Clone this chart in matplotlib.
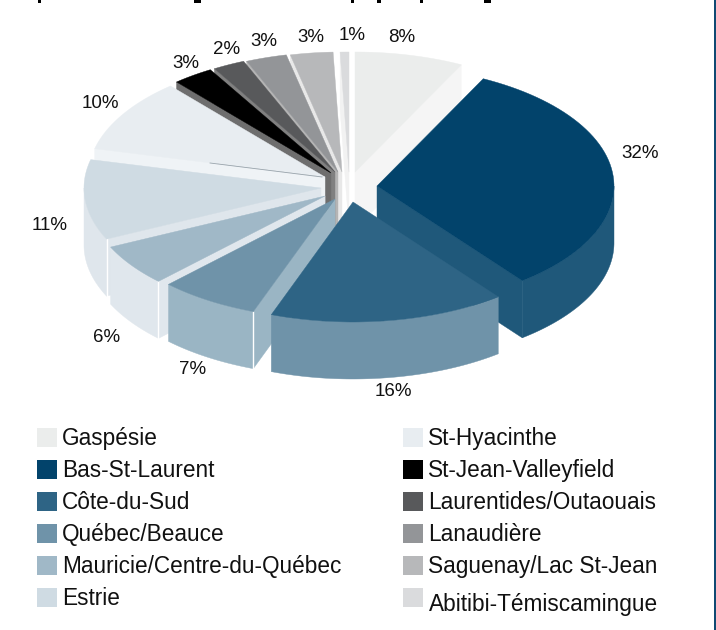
import numpy as np
import matplotlib
matplotlib.use("Agg")
import matplotlib.pyplot as plt
from matplotlib.patches import Polygon, Rectangle
from matplotlib import font_manager as fm

# ---------- data ----------
regions = ["Gaspésie", "Bas-St-Laurent", "Côte-du-Sud", "Québec/Beauce",
           "Mauricie/Centre-du-Québec", "Estrie", "St-Hyacinthe",
           "St-Jean-Valleyfield", "Laurentides/Outaouais", "Lanaudière",
           "Saguenay/Lac St-Jean", "Abitibi-Témiscamingue"]
shares = [7.4, 32.1, 16.1, 6.8, 5.6, 10.8, 9.9, 2.8, 2.2, 2.8, 2.9, 0.6]
labels = ["8%", "32%", "16%", "7%", "6%", "11%", "10%", "3%", "2%", "3%", "3%", "1%"]

# ---------- style ----------
top_colors = ["#EBEDEC", "#02436B", "#2E6485", "#6F93A9", "#A0B8C7", "#CFDBE3",
              "#E8EDF1", "#000000", "#58595B", "#939598", "#B7B8BA", "#DADBDD"]
side_colors = ["#F5F5F5", "#1F587A", "#6F93A9", "#9AB5C4", "#E0E7ED", "#DFE6EC",
               "#EFF3F6", "#6E6E6E", "#808080", "#B5B5B5", "#E8E8E8", "#F2F2F2"]
apex = [(355, 172), (377, 186), (353, 202), (335, 199), (325, 196), (321, 188),
        (325, 177), (331, 173), (335, 172), (338, 172), (342, 172), (349, 172)]
label_pos = [(402, 37), (640, 154), (393, 392), (193, 369), (107, 338), (50, 226),
             (100, 103), (186, 63), (227, 50), (264, 42), (311, 38), (352, 36)]
draw_order = [0, 11, 10, 9, 8, 7, 6, 5, 4, 3, 1, 2]
RX, RY, DEPTH = 237, 120, 57

names = {f.name for f in fm.fontManager.ttflist}
FONT = "Liberation Sans Narrow" if "Liberation Sans Narrow" in names else "Liberation Sans"

fig = plt.figure(figsize=(7.16, 6.30), dpi=100)
ax = fig.add_axes([0, 0, 1, 1])
ax.set_xlim(0, 716)
ax.set_ylim(630, 0)
ax.axis("off")

edges = np.concatenate([[0], np.cumsum(shares)]) / np.sum(shares) * 360


def rim(i, deg):
    t = np.radians(deg)
    return apex[i][0] + RX * np.sin(t), apex[i][1] - RY * np.cos(t)


def arc(i, a, b, n=60):
    d = np.linspace(a, b, n)
    x, y = rim(i, d)
    return np.column_stack([x, y])


def add_poly(pts, color, z):
    ax.add_patch(Polygon(pts, closed=True, facecolor=color, edgecolor=color,
                         linewidth=0.3, zorder=z))


for z, i in enumerate(draw_order):
    a, b = edges[i], edges[i + 1]
    base = z * 10
    ap = np.array(apex[i], float)
    down = np.array([0, DEPTH])
    # visible cut faces
    if b <= 180:
        e = np.array(rim(i, b))
        add_poly([ap, e, e + down, ap + down], side_colors[i], base + 1)
    if a >= 180:
        e = np.array(rim(i, a))
        add_poly([ap, e, e + down, ap + down], side_colors[i], base + 1)
    # visible outer wall
    lo, hi = max(a, 90), min(b, 270)
    if lo < hi:
        top = arc(i, lo, hi)
        add_poly(np.vstack([top, (top + down)[::-1]]), side_colors[i], base + 2)
        if a >= 180:
            ax.plot([rim(i, a)[0]] * 2, [rim(i, a)[1], rim(i, a)[1] + DEPTH],
                    color="white", lw=1.0, zorder=base + 3)
    # top surface
    add_poly(np.vstack([ap, arc(i, a, b)]), top_colors[i], base + 4)

# hairline seam visible on the St-Hyacinthe face in the reference
ax.plot([210, 322], [163, 177], color="#9AA5AD", lw=0.6, zorder=75)

for txt, (x, y) in zip(labels, label_pos):
    ax.text(x, y, txt, family=FONT, fontsize=13.5, ha="center", va="center",
            color="#111111", zorder=200)

# ---------- legend ----------
left_y = [437, 469, 501, 533, 565, 597]
right_y = [437, 469, 501, 533, 565, 597]
for k in range(6):
    ax.add_patch(Rectangle((37, left_y[k] - 9.5), 19.5, 19, facecolor=top_colors[k], edgecolor="none"))
    ax.text(62, left_y[k] + 1.5, regions[k], family=FONT, fontsize=16.3, va="center", ha="left", color="#111111")
    j = k + 6
    ax.add_patch(Rectangle((403, right_y[k] - 9.5), 19.5, 19, facecolor=top_colors[j], edgecolor="none"))
    ty = right_y[k] + 1.5 + (6 if j == 11 else 0)
    tx = 429 if j == 11 else 428
    ax.text(tx, ty, regions[j], family=FONT, fontsize=16.3, va="center", ha="left", color="#111111")

# right page rule and clipped heading descenders at the top edge
ax.plot([714.8, 714.8], [0, 630], color="#0A4570", lw=1.4)
for x, w in [(39, 3), (197, 7), (352, 3), (379, 4), (421, 3), (487, 7)]:
    ax.add_patch(Rectangle((x - w / 2, 0), w, 2.5, facecolor="black", edgecolor="none"))

fig.savefig("out.png", dpi=100)
